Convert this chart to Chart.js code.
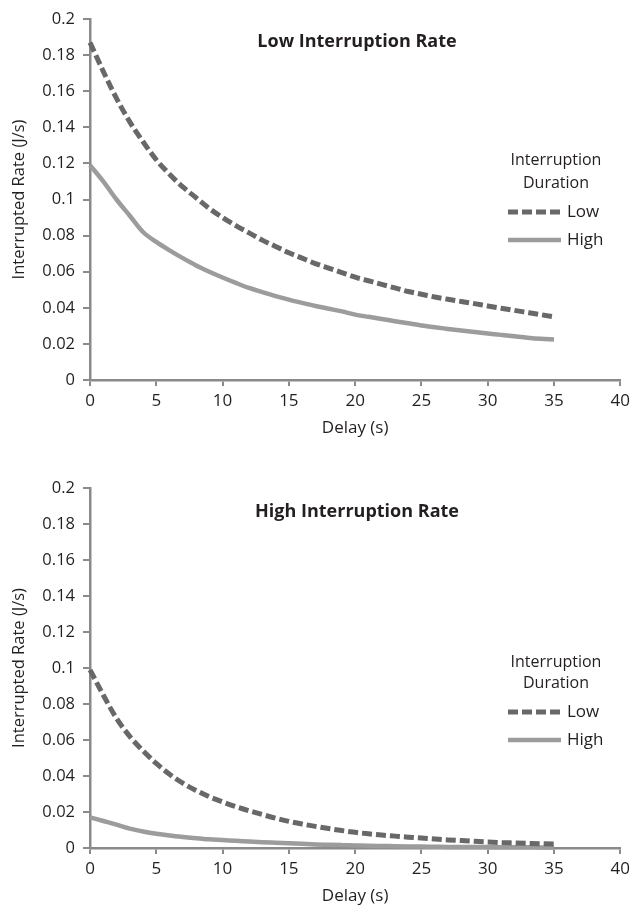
<!DOCTYPE html>
<html><head><meta charset="utf-8">
<script src="https://cdn.jsdelivr.net/npm/chart.js@4.4.0/dist/chart.umd.min.js"></script>
<style>
html,body{margin:0;padding:0;background:#fff;}
#wrap{position:relative;width:635px;height:910px;overflow:hidden;}
.c{position:absolute;left:0;width:635px;height:455px;}
</style></head><body>
<div id="wrap">
<div class="c" style="top:0"><canvas id="c1" width="635" height="455"></canvas></div>
<div class="c" style="top:455px"><canvas id="c2" width="635" height="455"></canvas></div>
</div>
<script>
// ---- data ----
const delays = [0,1,2,3,4,5,6,7,8,9,10,11,12,13,14,15,16,17,18,19,20,21,22,23,24,25,26,27,28,29,30,31,32,33,34,35];
const lowRateLowDur  = [0.187,0.171,0.156,0.143,0.132,0.122,0.114,0.107,0.101,0.095,0.090,0.0855,0.0815,0.0775,0.074,0.0705,0.0675,0.0645,0.062,0.0595,0.057,0.055,0.053,0.051,0.049,0.0475,0.046,0.0447,0.0435,0.0423,0.041,0.0398,0.0386,0.0374,0.0362,0.035];
const lowRateHighDur = [0.119,0.110,0.100,0.091,0.082,0.0765,0.0718,0.0675,0.0635,0.060,0.0568,0.0538,0.051,0.0487,0.0465,0.0445,0.0427,0.041,0.0395,0.038,0.0362,0.035,0.0338,0.0326,0.0314,0.0302,0.0292,0.0283,0.0274,0.0266,0.0258,0.025,0.0242,0.0234,0.0228,0.0225];
const highRateLowDur = [0.099,0.085,0.072,0.062,0.054,0.047,0.041,0.036,0.032,0.0285,0.0256,0.023,0.0207,0.0186,0.0166,0.0148,0.0133,0.012,0.0108,0.0097,0.0087,0.0079,0.0072,0.0066,0.006,0.0055,0.005,0.0045,0.0041,0.0037,0.0033,0.003,0.0028,0.0026,0.0024,0.0022];
const highRateHighDur= [0.017,0.015,0.013,0.0108,0.0092,0.0079,0.0069,0.0061,0.0054,0.0048,0.0044,0.004,0.0036,0.0032,0.0029,0.0026,0.0023,0.002,0.0018,0.0016,0.0014,0.0012,0.0011,0.001,0.0009,0.0008,0.0007,0.0006,0.0006,0.0005,0.0005,0.0004,0.0004,0.0004,0.0003,0.0003];
const yTicks = [0,0.02,0.04,0.06,0.08,0.1,0.12,0.14,0.16,0.18,0.2];
const xTicks = [0,5,10,15,20,25,30,35,40];
const panelTitles = ['Low Interruption Rate','High Interruption Rate'];
const legendHeader = ['Interruption','Duration'];
const seriesNames = ['Low','High'];
const yTitle = 'Interrupted Rate (J/s)';
const xTitle = 'Delay (s)';

const TXT = '#231f20';
const AX = '#8a8a8a';
const FONT = '"Open Sans", "Noto Sans", sans-serif';

const overlay = {
  id: 'overlay',
  afterDraw(chart, args, o) {
    const ctx = chart.ctx;
    ctx.save();
    ctx.fillStyle = TXT;
    ctx.textBaseline = 'middle';
    ctx.textAlign = 'center';
    ctx.font = 'bold 18px ' + FONT;
    ctx.fillText(o.title, o.titleX, o.titleY);
    ctx.font = '16px ' + FONT;
    ctx.fillText(legendHeader[0], o.legX, o.h1);
    ctx.fillText(legendHeader[1], o.legX, o.h2);
    chart.data.datasets.forEach((ds, i) => {
      const y = o.items[i];
      ctx.strokeStyle = ds.borderColor;
      ctx.lineWidth = ds.borderWidth;
      ctx.setLineDash(ds.borderDash || []);
      ctx.beginPath(); ctx.moveTo(o.lineX0, y); ctx.lineTo(o.lineX1, y); ctx.stroke();
      ctx.setLineDash([]);
      ctx.textAlign = 'left';
      ctx.font = '17px ' + FONT;
      ctx.fillText(ds.label, o.textX, y);
    });
    ctx.restore();
  }
};

function pts(vals){ return delays.map((d,i)=>({x:d, y:vals[i]})); }

function makeChart(id, lowVals, highVals, cfg) {
  return new Chart(document.getElementById(id), {
    type: 'line',
    data: {
      datasets: [
        { label: seriesNames[0], data: pts(lowVals), borderColor: '#686868', borderWidth: 5, borderDash: [10,4], pointRadius: 0, cubicInterpolationMode: 'monotone', clip: false, fill: false },
        { label: seriesNames[1], data: pts(highVals), borderColor: '#9c9c9c', borderWidth: 4.5, pointRadius: 0, cubicInterpolationMode: 'monotone', clip: false, fill: false }
      ]
    },
    options: {
      responsive: false,
      animation: false,
      events: [],
      layout: { padding: { top: cfg.padTop, right: 13, bottom: cfg.padBottom, left: 0 } },
      plugins: { legend: { display: false }, tooltip: { enabled: false }, title: { display: false }, overlay: cfg.overlay },
      scales: {
        x: {
          type: 'linear', min: 0, max: 40,
          afterBuildTicks: s => { s.ticks = xTicks.map(v => ({ value: v })); },
          afterFit: s => { s.height = cfg.xH; },
          grid: { display: true, drawOnChartArea: false, drawTicks: true, tickLength: 6, color: AX, lineWidth: 2 },
          border: { display: true, color: AX, width: 2.5 },
          ticks: { color: TXT, font: { family: FONT, size: 17 }, padding: 5, maxRotation: 0, autoSkip: false },
          title: { display: true, text: xTitle, color: TXT, font: { family: FONT, size: 17 }, padding: { top: 0, bottom: cfg.xTitlePad } }
        },
        y: {
          type: 'linear', min: 0, max: 0.2,
          afterBuildTicks: s => { s.ticks = yTicks.map(v => ({ value: v })); },
          afterFit: s => { s.width = 90; },
          grid: { display: true, drawOnChartArea: false, drawTicks: true, tickLength: 7, color: AX, lineWidth: 2 },
          border: { display: true, color: AX, width: 2.5 },
          ticks: { color: TXT, font: { family: FONT, size: 16.5 }, padding: 8, autoSkip: false,
                   callback: v => String(parseFloat(Number(v).toFixed(2))) },
          title: { display: true, text: yTitle, color: TXT, font: { family: FONT, size: 16.5 }, padding: { top: 9, bottom: 0 } }
        }
      }
    },
    plugins: [overlay]
  });
}

makeChart('c1', lowRateLowDur, lowRateHighDur, {
  padTop: 19, padBottom: 13, xH: 62, xTitlePad: 4,
  overlay: { title: panelTitles[0], titleX: 357, titleY: 42, legX: 556, h1: 160, h2: 183, items: [212, 240], lineX0: 508, lineX1: 561, textX: 567 }
});
makeChart('c2', highRateLowDur, highRateHighDur, {
  padTop: 33, padBottom: 2, xH: 60, xTitlePad: 2,
  overlay: { title: panelTitles[1], titleX: 357, titleY: 57, legX: 556, h1: 207, h2: 228, items: [257, 285], lineX0: 508, lineX1: 561, textX: 567 }
});
</script>
</body></html>
